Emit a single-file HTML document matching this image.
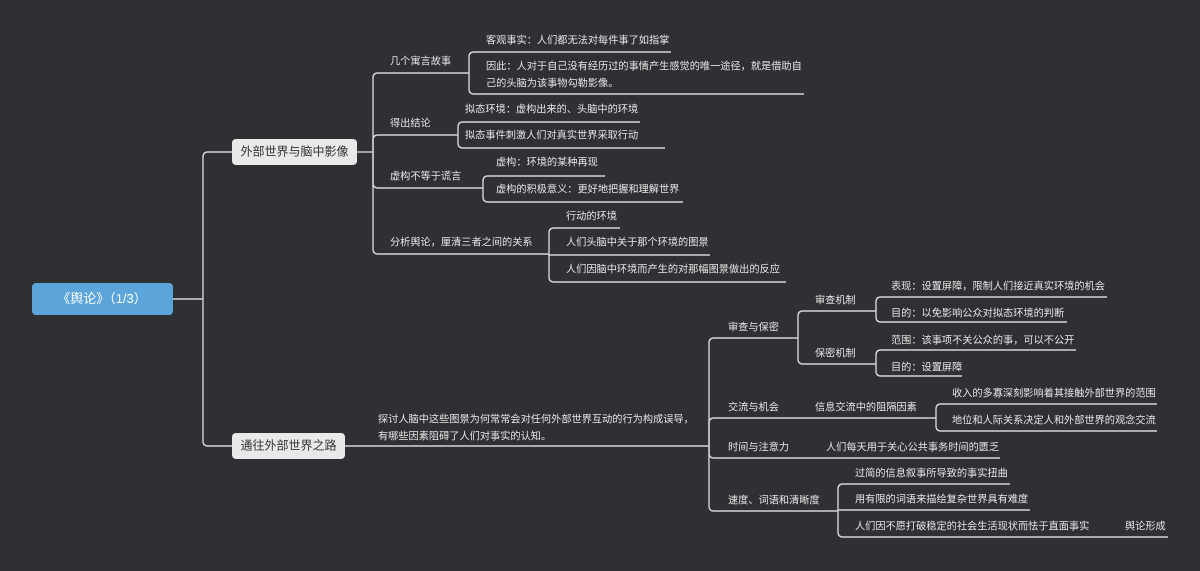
<!DOCTYPE html>
<html><head><meta charset="utf-8"><style>
html,body{margin:0;padding:0;background:#2f3034;}
svg{display:block}
text{font-family:"Liberation Sans","Noto Sans CJK SC",sans-serif;font-size:10.2px;fill:#e6e6e6;dominant-baseline:middle}
</style></head><body>
<svg width="1200" height="571" viewBox="0 0 1200 571">
<rect width="1200" height="571" fill="#2f3034"/>
<g fill="none" stroke="#d4d4d4" stroke-width="1.4">
<path d="M173 299 L203 299"/>
<path d="M203 299 L203 157 Q203 152 208 152 L232 152"/>
<path d="M203 299 L203 441 Q203 446 208 446 L232 446"/>
<path d="M357 152 L373 152"/>
<path d="M373 152 L373 78 Q373 73 378 73 L469 73"/>
<path d="M373 152 L373 140 Q373 135 378 135 L458 135"/>
<path d="M373 152 L373 183 Q373 188 378 188 L483 188"/>
<path d="M373 152 L373 249 Q373 254 378 254 L549 254"/>
<path d="M469 73 L469 57 Q469 52 474 52 L671 52"/>
<path d="M469 73 L469 89 Q469 94 474 94 L804 94"/>
<path d="M458 135 L458 127 Q458 122 463 122 L640 122"/>
<path d="M458 135 L458 143 Q458 148 463 148 L665 148"/>
<path d="M483 188 L483 181 Q483 176 488 176 L605 176"/>
<path d="M483 188 L483 197 Q483 202 488 202 L683 202"/>
<path d="M549 254 L549 233 Q549 228 554 228 L620 228"/>
<path d="M549 254 L549 255 L710 255"/>
<path d="M549 254 L549 277 Q549 282 554 282 L786 282"/>
<path d="M345 446 L709 446"/>
<path d="M709 446 L709 343 Q709 338 714 338 L798 338"/>
<path d="M709 446 L709 423 Q709 418 714 418 L936 418"/>
<path d="M709 446 L709 453 Q709 458 714 458 L1000 458"/>
<path d="M709 446 L709 506 Q709 511 714 511 L838 511"/>
<path d="M798 338 L798 316 Q798 311 803 311 L876 311"/>
<path d="M798 338 L798 359 Q798 364 803 364 L876 364"/>
<path d="M876 311 L876 302 Q876 297 881 297 L1107 297"/>
<path d="M876 311 L876 317 Q876 322 881 322 L1067 322"/>
<path d="M876 364 L876 355 Q876 350 881 350 L1076 350"/>
<path d="M876 364 L876 371 Q876 376 881 376 L962 376"/>
<path d="M936 418 L936 409 Q936 404 941 404 L1157 404"/>
<path d="M936 418 L936 426 Q936 431 941 431 L1157 431"/>
<path d="M838 511 L838 489 Q838 484 843 484 L1010 484"/>
<path d="M838 511 L838 510 L1030 510"/>
<path d="M838 511 L838 532 Q838 537 843 537 L1168 537"/>
</g>
<rect x="32" y="283" width="141" height="32" rx="4" fill="#5ba5da"/>
<text x="102" y="299.5" text-anchor="middle" style="font-size:13px;fill:#fff">《舆论》（1/3）</text>
<rect x="232" y="139" width="125" height="26" rx="4" fill="#e9e9e9"/>
<text x="294.5" y="152.5" text-anchor="middle" style="font-size:12px;fill:#333">外部世界与脑中影像</text>
<rect x="232" y="433" width="113" height="26" rx="4" fill="#e9e9e9"/>
<text x="288.5" y="446.5" text-anchor="middle" style="font-size:12px;fill:#333">通往外部世界之路</text>
<text x="390" y="62">几个寓言故事</text>
<text x="486" y="41">客观事实：人们都无法对每件事了如指掌</text>
<text x="486" y="67">因此：人对于自己没有经历过的事情产生感觉的唯一途径，就是借助自</text>
<text x="486" y="84">己的头脑为该事物勾勒影像。</text>
<text x="390" y="124">得出结论</text>
<text x="465" y="110">拟态环境：虚构出来的、头脑中的环境</text>
<text x="465" y="136">拟态事件刺激人们对真实世界采取行动</text>
<text x="390" y="177">虚构不等于谎言</text>
<text x="496" y="163">虚构：环境的某种再现</text>
<text x="496" y="190">虚构的积极意义：更好地把握和理解世界</text>
<text x="390" y="243">分析舆论，厘清三者之间的关系</text>
<text x="566" y="217">行动的环境</text>
<text x="566" y="243">人们头脑中关于那个环境的图景</text>
<text x="566" y="270">人们因脑中环境而产生的对那幅图景做出的反应</text>
<text x="378" y="420">探讨人脑中这些图景为何常常会对任何外部世界互动的行为构成误导，</text>
<text x="378" y="437">有哪些因素阻碍了人们对事实的认知。</text>
<text x="728" y="328">审查与保密</text>
<text x="815" y="301">审查机制</text>
<text x="891" y="287">表现：设置屏障，限制人们接近真实环境的机会</text>
<text x="891" y="314">目的：以免影响公众对拟态环境的判断</text>
<text x="815" y="354">保密机制</text>
<text x="891" y="341">范围：该事项不关公众的事，可以不公开</text>
<text x="891" y="368">目的：设置屏障</text>
<text x="728" y="408">交流与机会</text>
<text x="815" y="408">信息交流中的阻隔因素</text>
<text x="952" y="394">收入的多寡深刻影响着其接触外部世界的范围</text>
<text x="952" y="421">地位和人际关系决定人和外部世界的观念交流</text>
<text x="728" y="448">时间与注意力</text>
<text x="826" y="448">人们每天用于关心公共事务时间的匮乏</text>
<text x="728" y="501">速度、词语和清晰度</text>
<text x="855" y="474">过简的信息叙事所导致的事实扭曲</text>
<text x="855" y="500">用有限的词语来描绘复杂世界具有难度</text>
<text x="855" y="527">人们因不愿打破稳定的社会生活现状而怯于直面事实</text>
<text x="1125" y="527">舆论形成</text>
</svg>
</body></html>
